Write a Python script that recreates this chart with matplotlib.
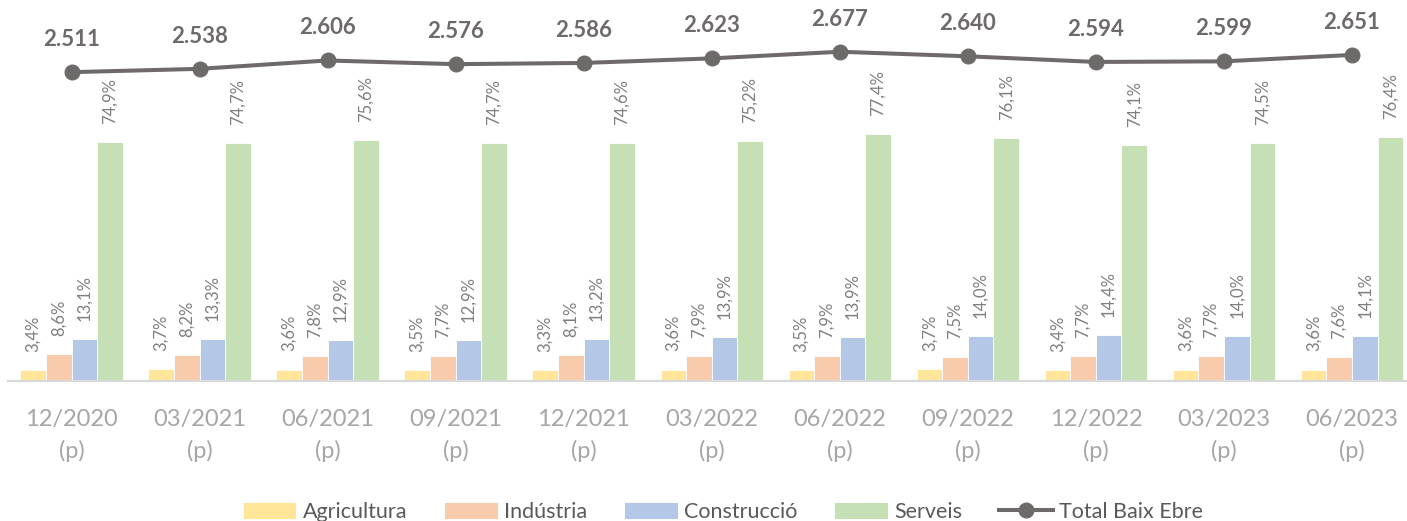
import matplotlib.pyplot as plt
import numpy as np

# Dades llegides del gràfic
periodes = ['12/2020\n(p)', '03/2021\n(p)', '06/2021\n(p)', '09/2021\n(p)',
            '12/2021\n(p)', '03/2022\n(p)', '06/2022\n(p)', '09/2022\n(p)',
            '12/2022\n(p)', '03/2023\n(p)', '06/2023\n(p)']
total = [2511, 2538, 2606, 2576, 2586, 2623, 2677, 2640, 2594, 2599, 2651]
agricultura = [3.4, 3.7, 3.6, 3.5, 3.3, 3.6, 3.5, 3.7, 3.4, 3.6, 3.6]
industria = [8.6, 8.2, 7.8, 7.7, 8.1, 7.9, 7.9, 7.5, 7.7, 7.7, 7.6]
construccio = [13.1, 13.3, 12.9, 12.9, 13.2, 13.9, 13.9, 14.0, 14.4, 14.0, 14.1]
serveis = [74.9, 74.7, 75.6, 74.7, 74.6, 75.2, 77.4, 76.1, 74.1, 74.5, 76.4]

sectors = ['Agricultura', 'Indústria', 'Construcció', 'Serveis']
colors = ['#FFE699', '#F8CBAD', '#B4C7E7', '#C5E0B4']

plt.rcParams['font.family'] = ['Lato', 'DejaVu Sans']

fig = plt.figure(figsize=(14.07, 5.21), dpi=100)
ax = fig.add_axes([7.5 / 1407, 140 / 521, 1408.5 / 1407, 368 / 521])
ax2 = ax.twinx()

x = np.arange(len(periodes))
amplada = 0.2

# Barres en % (eix principal)
for k, (nom, vals) in enumerate(zip(sectors, [agricultura, industria, construccio, serveis])):
    pos = x - 0.3 + k * amplada
    ax.bar(pos, vals, width=amplada, color=colors[k], label=nom, edgecolor='white', linewidth=0.6)
    for xi, v in zip(pos, vals):
        ax.annotate(f"{v:.1f}%".replace('.', ','), (xi, v), xytext=(0, 13),
                    textcoords='offset points', rotation=90, ha='center', va='bottom',
                    fontsize=12, color='#7F7F7F')

# Línia del total (eix secundari)
ax2.plot(x, total, color='#6E6A6A', linewidth=2.9, marker='o', markersize=10.5,
         label='Total Baix Ebre', zorder=5)
for xi, t in zip(x, total):
    ax2.annotate(f"{t:,}".replace(',', '.'), (xi, t), xytext=(0, 16),
                 textcoords='offset points', ha='center', va='bottom',
                 fontsize=16, fontweight='bold', color='#6E6A6A')

ax.set_xlim(-0.5, len(periodes) - 0.5)
ax.set_ylim(0, 115.4)
ax2.set_ylim(0, 2992)
ax.set_xticks(x)
ax.set_xticklabels(periodes, fontsize=17, color='#A6A6A6', linespacing=1.55)
ax.tick_params(axis='x', length=0, pad=20)
ax.set_yticks([])
ax2.set_yticks([])
for a in (ax, ax2):
    for s in ['top', 'right', 'left']:
        a.spines[s].set_visible(False)
ax2.spines['bottom'].set_visible(False)
ax.spines['bottom'].set_color('#D9D9D9')
ax.spines['bottom'].set_linewidth(1.6)

h1, l1 = ax.get_legend_handles_labels()
h2, l2 = ax2.get_legend_handles_labels()
fig.legend(h1 + h2, l1 + l2, loc='center', bbox_to_anchor=(723 / 1407, 9 / 521), ncol=5,
           frameon=False, fontsize=15.5, labelcolor='#595959', handlelength=2.5,
           handleheight=0.85, handletextpad=0.3, columnspacing=1.7, borderaxespad=0)

fig.savefig('out.png', dpi=100)
